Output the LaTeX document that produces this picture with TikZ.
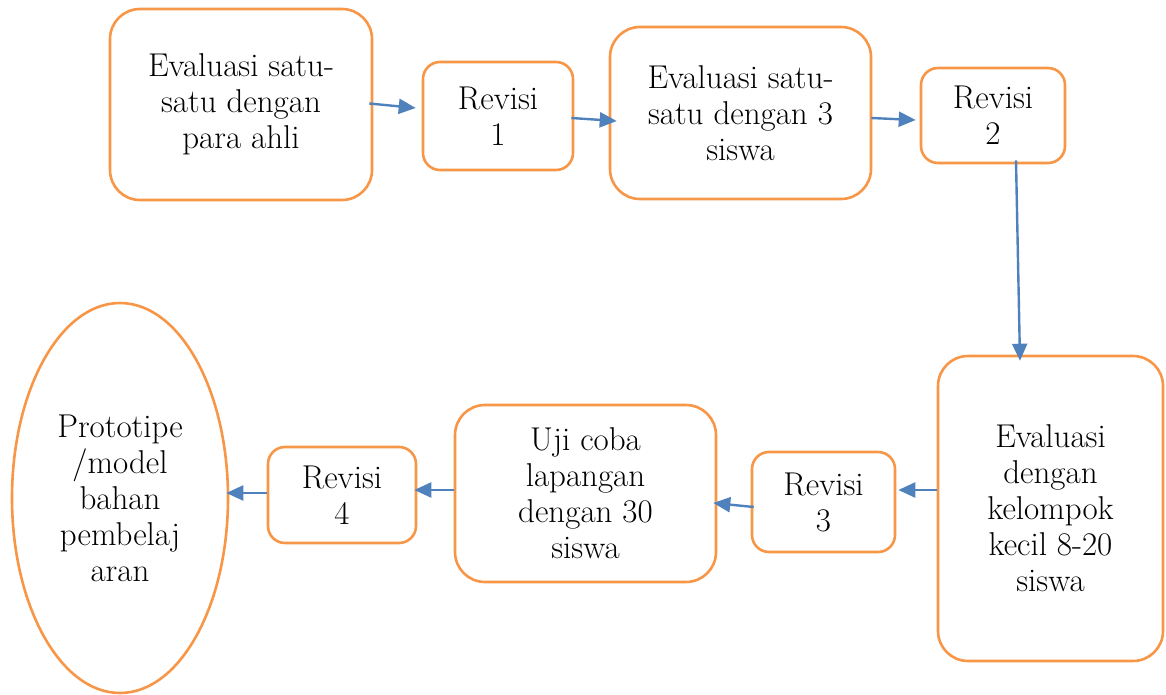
\documentclass[tikz,border=0pt]{standalone}
\usetikzlibrary{arrows.meta,calc,shapes.geometric}
\definecolor{boxorange}{HTML}{F79646}
\definecolor{arrowblue}{HTML}{4F81BD}
\begin{document}
\begin{tikzpicture}[x=1pt,y=-1pt,
  box/.style={draw=boxorange,line width=2.6pt,rectangle,inner sep=0pt,align=center,
    font=\fontsize{33}{36}\selectfont},
  bigbox/.style={box,rounded corners=30pt},
  smallbox/.style={box,rounded corners=17pt},
  oval/.style={draw=boxorange,line width=2.6pt,ellipse,inner sep=0pt,align=center,
    font=\fontsize{33}{36}\selectfont},
  flow/.style={draw=arrowblue,line width=2.4pt,-{Triangle[length=17pt,width=15pt]}}]
\useasboundingbox (0,0) rectangle (1166,695);
\node[bigbox,minimum width=262pt,minimum height=191pt] (A) at (241,104.5)
  {Evaluasi satu-\\satu dengan\\para ahli};
\node[smallbox,minimum width=150pt,minimum height=108pt] (B) at (498,116)
  {Revisi\\1};
\node[bigbox,minimum width=261pt,minimum height=172pt] (C) at (740.5,113)
  {Evaluasi satu-\\satu dengan 3\\siswa};
\node[smallbox,minimum width=144pt,minimum height=95pt] (D) at (993,115.5)
  {Revisi\\2};
\node[bigbox,minimum width=225pt,minimum height=305pt] (E) at (1050.5,508.5)
  {Evaluasi\\dengan\\kelompok\\kecil 8-20\\siswa};
\node[smallbox,minimum width=143pt,minimum height=100pt] (F) at (823.5,502)
  {Revisi\\3};
\node[bigbox,minimum width=261pt,minimum height=177pt] (G) at (585.5,493.5)
  {Uji coba\\lapangan\\dengan 30\\siswa};
\node[smallbox,minimum width=148pt,minimum height=96pt] (H) at (342,495)
  {Revisi\\4};
\node[oval,minimum width=216pt,minimum height=390pt] (P) at (120,498)
  {Prototipe\\/model\\bahan\\pembelaj\\aran};
\draw[flow] ($(A.east)+(-4,-1)$) -- ($(B.west)+(-6,-8)$);
\draw[flow] ($(B.east)+(-3,2)$) -- ($(C.west)+(8,8)$);
\draw[flow] ($(C.east)+(-1,5)$) -- ($(D.west)+(-4,4.5)$);
\draw[flow] ($(D.south)+(23,-4)$) -- ($(E.north)+(-30.5,6)$);
\draw[flow] ($(E.west)+(0,-18.5)$) -- ($(F.east)+(2,-12)$);
\draw[flow] ($(F.west)+(3,5)$) -- ($(G.east)+(-4,9.5)$);
\draw[flow] ($(G.west)+(0,-3.5)$) -- ($(H.east)+(-3,-5)$);
\draw[flow] ($(H.west)+(0,-2)$) -- ($(P.east)+(-3,-5)$);
\end{tikzpicture}
\end{document}
